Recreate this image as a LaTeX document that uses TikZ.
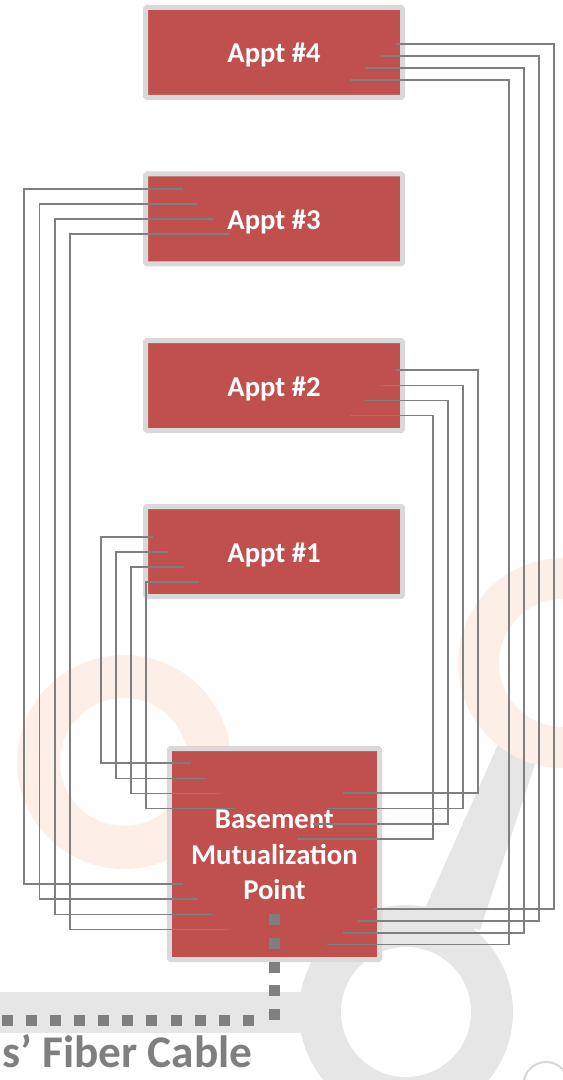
\documentclass[tikz,border=0pt]{standalone}
\usepackage{fontspec}
\setmainfont{Carlito}
\usetikzlibrary{calc}
\definecolor{boxred}{HTML}{C0504D}
\definecolor{boxrim}{HTML}{D9D9D9}
\definecolor{wiregray}{HTML}{7F7F7F}
\definecolor{markorange}{HTML}{FDEFE7}
\definecolor{markgray}{HTML}{E6E6E6}
\definecolor{markline}{HTML}{D6D6D6}
\begin{document}
\begin{tikzpicture}[x=0.75pt,y=-0.75pt,
  apptbox/.style={draw=boxrim, fill=boxred, line width=3.75pt, rounded corners=1pt,
    inner sep=0pt, outer sep=0pt, minimum width=192.75pt, minimum height=67.5pt},
  basebox/.style={apptbox, minimum width=157.7pt, minimum height=158.25pt},
  boxtext/.style={text=white, inner sep=0pt, font=\fontsize{21.5}{25}\selectfont\bfseries},
  wire/.style={draw=wiregray, line width=1.25pt},
  cablesq/.style={fill=wiregray},
  cablelabel/.style={text=wiregray, inner sep=0pt, font=\fontsize{34}{40}\selectfont\bfseries}]
\useasboundingbox (0,0) rectangle (563,1080);
\clip (0,0) rectangle (563,1080);

% faint logo marks in the background
\fill[markgray] (-5,992) rectangle (330,1033);
\fill[markgray] (500,740) -- (548,725) -- (480,930) -- (420,920) -- cycle;
\fill[markgray] (406,1012) circle (107);
\fill[white] (406,1012) circle (65);
\fill[markorange, even odd rule] (124,762) circle (107) (124,762) circle (64);
\fill[markorange, even odd rule] (563,663) circle (105) (563,663) circle (64);
\draw[markline, line width=1.5pt] (546,1084.4) circle (22.4);

% apartments
\node[apptbox] (a4) at (274,52.5) {};
\node[boxtext, anchor=base] (t4) at (274,63) {Appt \#4};
\node[apptbox] (a3) at (274,219) {};
\node[boxtext, anchor=base] (t3) at (274,229.5) {Appt \#3};
\node[apptbox] (a2) at (274,385.5) {};
\node[boxtext, anchor=base] (t2) at (274,396) {Appt \#2};
\node[apptbox] (a1) at (274,551.5) {};
\node[boxtext, anchor=base] (t1) at (274,562) {Appt \#1};

% basement mutualization point
\node[basebox] (mp) at (274.4,854) {};
\node[boxtext, anchor=base] (m1) at (274.4,828.3) {Basement};
\node[boxtext, anchor=base] (m2) at (274.4,864) {Mutualization};
\node[boxtext, anchor=base] (m3) at (274.4,899.3) {Point};

% four fibres from each apartment down to the mutualization point
\foreach \i in {0,...,3}{
  % Appt #4, right side, to the lower right of the point
  \coordinate (u4-\i) at ({396-15.33*\i},{44+11.9*\i});
  \coordinate (k4-\i) at ({554-15*\i},{909.3+11.75*\i});
  \coordinate (b4-\i) at ({373.3-15.33*\i},{909.3+11.75*\i});
  \draw[wire] (u4-\i) -| (k4-\i) -- (b4-\i);
  % Appt #3, left side, to the lower left of the point
  \coordinate (u3-\i) at ({183+15.2*\i},{189+15*\i});
  \coordinate (k3-\i) at ({24.3+15.2*\i},{884+15.2*\i});
  \coordinate (b3-\i) at ({183+15.2*\i},{884+15.2*\i});
  \draw[wire] (u3-\i) -| (k3-\i) -- (b3-\i);
  % Appt #2, right side, to the upper right of the point
  \coordinate (u2-\i) at ({396-15.33*\i},{370.3+15.1*\i});
  \coordinate (k2-\i) at ({478.3-15.2*\i},{793.3+15.2*\i});
  \coordinate (b2-\i) at ({342.7-15.1*\i},{793.3+15.2*\i});
  \draw[wire] (u2-\i) -| (k2-\i) -- (b2-\i);
  % Appt #1, left side, to the upper left of the point
  \coordinate (u1-\i) at ({153.3+15.1*\i},{536.7+15.1*\i});
  \coordinate (k1-\i) at ({100.7+15*\i},{763.3+15.1*\i});
  \coordinate (b1-\i) at ({190.7+15.1*\i},{763.3+15.1*\i});
  \draw[wire] (u1-\i) -| (k1-\i) -- (b1-\i);
}

% operators' cable leaving the point
\foreach \k in {0,...,4}
  \fill[cablesq] ({268.5},{914.3+23.65*\k}) rectangle ++(11,11);
\foreach \k in {0,...,10}
  \fill[cablesq] ({243-24.15*\k},1015) rectangle ++(11,11);
\node[cablelabel, anchor=base west] (fc) at (2,1067) {s’ Fiber Cable};
\end{tikzpicture}
\end{document}
